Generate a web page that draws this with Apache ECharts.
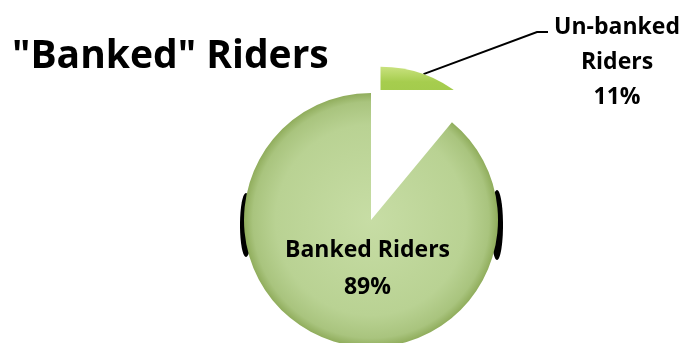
<!DOCTYPE html>
<html>
<head>
<meta charset="utf-8">
<script src="https://cdn.jsdelivr.net/npm/echarts@6/dist/echarts.min.js"></script>
<style>
html,body{margin:0;padding:0;background:#fff;}
#chart{width:685px;height:343px;}
</style>
</head>
<body>
<div id="chart"></div>
<script>
const titleText = '"Banked" Riders';
const categories = ['Un-banked Riders', 'Banked Riders'];
const values = [11, 89];

const total = values.reduce((a, b) => a + b, 0);
const cx = 371, cy = 220, R = 127, explode = 28;
const halfAng = (values[0] / total) * Math.PI;
const cxA = cx + explode * Math.sin(halfAng);
const cyA = cy - explode * Math.cos(halfAng);

const FONT = 'Open Sans';
const hidden = { color: 'rgba(0,0,0,0)' };

const smallColor = {
  type: 'linear', x: 0, y: 0, x2: 0, y2: 1,
  colorStops: [
    { offset: 0, color: '#c9e27f' },
    { offset: 0.12, color: '#a6cd4e' },
    { offset: 1, color: '#8ab83a' }
  ]
};
const bigColor = {
  type: 'radial', x: cx, y: cy, r: R, global: true,
  colorStops: [
    { offset: 0, color: '#c7dda5' },
    { offset: 0.75, color: '#b9d293' },
    { offset: 0.93, color: '#a9c47e' },
    { offset: 1, color: '#90ad5c' }
  ]
};

const chart = echarts.init(document.getElementById('chart'), null, { renderer: 'canvas' });
chart.setOption({
  animation: false,
  backgroundColor: '#ffffff',
  title: {
    text: titleText, left: 12, top: 37, padding: 0,
    textStyle: { fontFamily: FONT, fontWeight: 'bold', fontSize: 39, color: '#000' }
  },
  graphic: [
    { type: 'ellipse', z: 0, shape: { cx: cx - R + 2, cy: cy + 5, rx: 6, ry: 32 }, style: { fill: '#000' } },
    { type: 'ellipse', z: 0, shape: { cx: cx + R - 1, cy: cy + 5, rx: 6, ry: 35 }, style: { fill: '#000' } },
    { type: 'rect', z: 2, shape: { x: cx - 12, y: 90, width: 130, height: cy - 88 }, style: { fill: '#ffffff' } }
  ],
  series: [
    {
      type: 'pie', z: 1, center: [cxA, cyA], radius: [0, R],
      startAngle: 90, clockwise: true, avoidLabelOverlap: false, silent: true,
      data: [
        {
          name: categories[0], value: values[0], itemStyle: { color: smallColor },
          label: {
            show: true, position: 'outside',
            formatter: p => p.name.replace(' ', '\n') + '\n' + p.percent + '%',
            fontFamily: FONT, fontWeight: 'bold', fontSize: 23, lineHeight: 35, color: '#000', align: 'center'
          },
          labelLine: { show: true, length: 30, length2: 60, lineStyle: { color: '#000', width: 2 } }
        },
        { name: categories[1], value: values[1], itemStyle: hidden, label: { show: false }, labelLine: { show: false } }
      ],
      labelLayout: function (params) {
        if (params.dataIndex !== 0) return {};
        const lx = 617, ly = 62;
        const out = { x: lx, y: ly, align: 'center', verticalAlign: 'middle' };
        if (params.labelLinePoints && params.labelLinePoints.length) {
          const p0 = params.labelLinePoints[0];
          out.labelLinePoints = [[p0[0], p0[1]], [lx - 80, ly - 30], [lx - 69, ly - 30]];
        }
        return out;
      }
    },
    {
      type: 'pie', z: 3, center: [cx, cy], radius: [0, R],
      startAngle: 90, clockwise: true, avoidLabelOverlap: false, silent: true,
      data: [
        { name: categories[0], value: values[0], itemStyle: hidden, label: { show: false }, labelLine: { show: false } },
        {
          name: categories[1], value: values[1], itemStyle: { color: bigColor },
          label: {
            show: true, position: 'inside', offset: [19, -14],
            formatter: p => p.name + '\n' + p.percent + '%',
            fontFamily: FONT, fontWeight: 'bold', fontSize: 23, lineHeight: 37, color: '#000', align: 'center'
          }
        }
      ]
    }
  ]
});
</script>
</body>
</html>
